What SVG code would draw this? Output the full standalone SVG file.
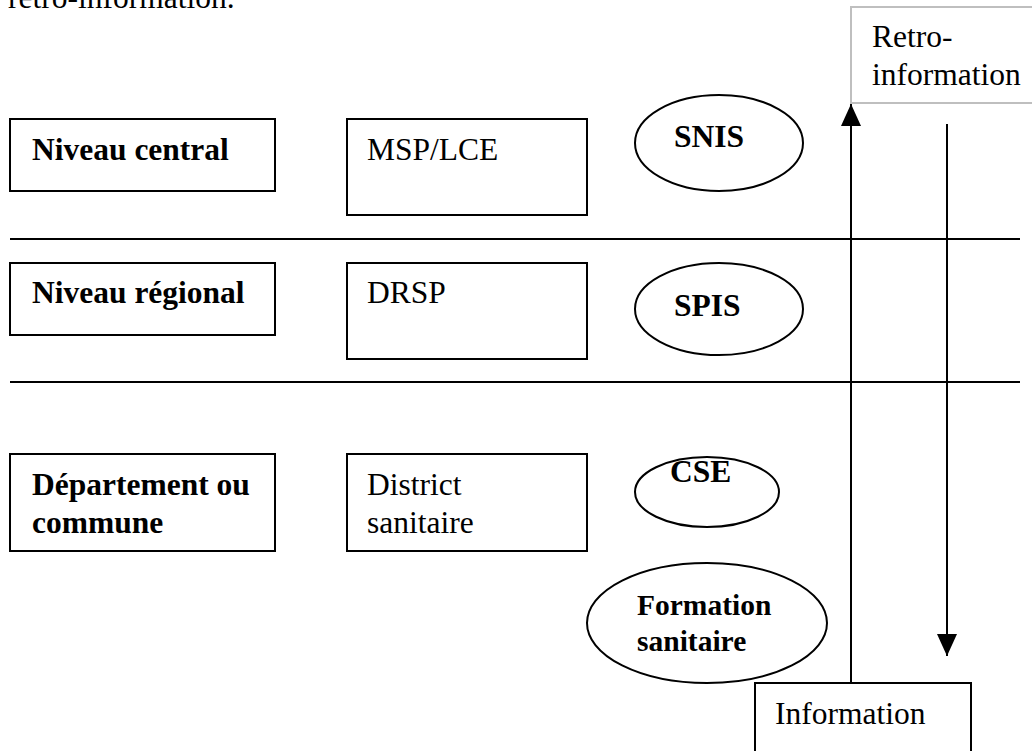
<svg xmlns="http://www.w3.org/2000/svg" width="1032" height="751" viewBox="0 0 1032 751">
<style>
.t{font-family:"Liberation Serif","Times New Roman",serif;font-size:31.5px;fill:#000}
.b{font-weight:bold}
.box{fill:#fff;stroke:#000;stroke-width:2}
.ell{fill:#fff;stroke:#000;stroke-width:2}
.ln{stroke:#000;stroke-width:2;fill:none}
</style>
<defs>
<marker id="ah" viewBox="0 0 22 20" refX="22" refY="10" markerWidth="22" markerHeight="20" markerUnits="userSpaceOnUse" orient="auto">
<path d="M0,0 L22,10 L0,20 Z" fill="#000"/>
</marker>
</defs>
<rect width="1032" height="751" fill="#fff"/>
<text class="t" x="8" y="8">retro-information.</text>
<g id="separators">
<line class="ln" x1="10" y1="239" x2="1020" y2="239"/>
<line class="ln" x1="10" y1="382" x2="1020" y2="382"/>
</g>
<g id="n-central"><rect class="box" x="10" y="119" width="265" height="72"/><text class="t b" x="32" y="160">Niveau central</text></g>
<g id="n-msp"><rect class="box" x="347" y="119" width="240" height="96"/><text class="t" x="367" y="160">MSP/LCE</text></g>
<g id="n-snis"><ellipse class="ell" cx="719" cy="143" rx="84" ry="48"/><text class="t b" x="674" y="147">SNIS</text></g>
<g id="n-regional"><rect class="box" x="10" y="263" width="265" height="72"/><text class="t b" x="32" y="303">Niveau régional</text></g>
<g id="n-drsp"><rect class="box" x="347" y="263" width="240" height="96"/><text class="t" x="367" y="303">DRSP</text></g>
<g id="n-spis"><ellipse class="ell" cx="719" cy="309" rx="84" ry="46"/><text class="t b" x="674" y="316">SPIS</text></g>
<g id="n-dept"><rect class="box" x="10" y="454" width="265" height="97"/><text class="t b" x="32" y="495">Département ou</text><text class="t b" x="32" y="533">commune</text></g>
<g id="n-district"><rect class="box" x="347" y="454" width="240" height="97"/><text class="t" x="367" y="495">District</text><text class="t" x="367" y="533">sanitaire</text></g>
<g id="n-cse"><ellipse class="ell" cx="707" cy="492" rx="72" ry="35"/><text class="t b" x="670" y="482">CSE</text></g>
<g id="n-formation"><ellipse class="ell" cx="707" cy="623" rx="120" ry="60"/><text class="t b" x="637" y="615" style="font-size:29.5px">Formation</text><text class="t b" x="637" y="651" style="font-size:29.5px">sanitaire</text></g>
<g id="n-info"><rect class="box" x="755" y="683" width="216" height="80"/><text class="t" x="775" y="724">Information</text></g>
<g id="n-retro"><rect x="851" y="7" width="200" height="96" fill="#fff" stroke="#bfbfbf" stroke-width="2"/><text class="t" x="872" y="47">Retro-</text><text class="t" x="872" y="85">information</text></g>
<g id="connectors">
<line class="ln" x1="851" y1="683" x2="851" y2="104" marker-end="url(#ah)"/>
<line class="ln" x1="947" y1="124" x2="947" y2="656" marker-end="url(#ah)"/>
</g>
</svg>
